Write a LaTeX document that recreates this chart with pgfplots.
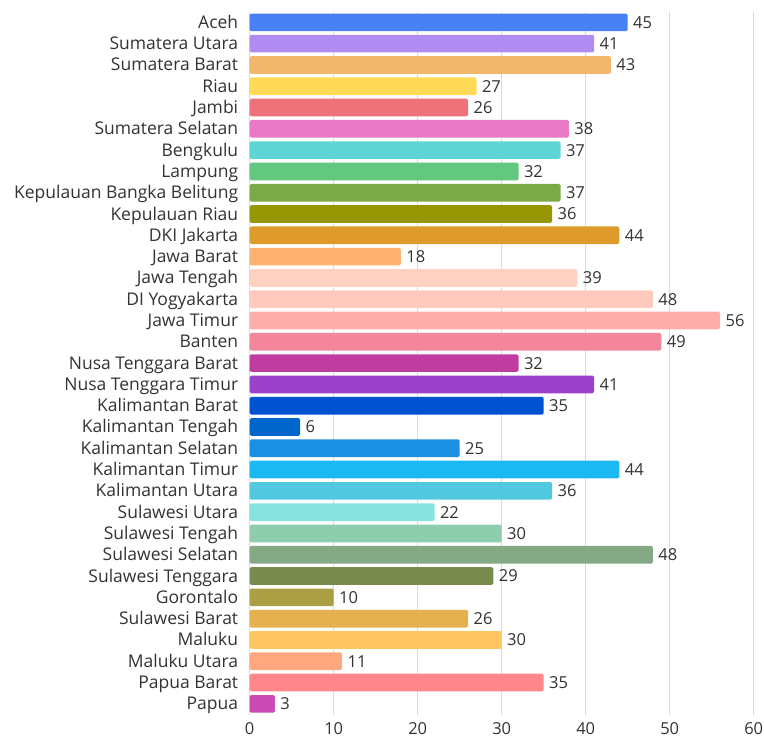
\documentclass[border=0pt]{standalone}
\usepackage{pgfplots}
\pgfplotsset{compat=1.18}
\usepackage{fontspec}
\setmainfont{Open Sans}
\definecolor{txt}{HTML}{333333}
\definecolor{gridc}{HTML}{DADADA}
\definecolor{c1}{HTML}{4A80F5}
\definecolor{c2}{HTML}{AF8BF2}
\definecolor{c3}{HTML}{F2B76B}
\definecolor{c4}{HTML}{FFDA56}
\definecolor{c5}{HTML}{EF727B}
\definecolor{c6}{HTML}{E879C6}
\definecolor{c7}{HTML}{5DD5D4}
\definecolor{c8}{HTML}{62C77F}
\definecolor{c9}{HTML}{7BA945}
\definecolor{c10}{HTML}{979604}
\definecolor{c11}{HTML}{DE9B2C}
\definecolor{c12}{HTML}{FFB271}
\definecolor{c13}{HTML}{FFD1C1}
\definecolor{c14}{HTML}{FFC9BD}
\definecolor{c15}{HTML}{FFADAA}
\definecolor{c16}{HTML}{F3869A}
\definecolor{c17}{HTML}{C03C9E}
\definecolor{c18}{HTML}{9A42C9}
\definecolor{c19}{HTML}{0052D1}
\definecolor{c20}{HTML}{0066CC}
\definecolor{c21}{HTML}{1A8FE3}
\definecolor{c22}{HTML}{1BB8F2}
\definecolor{c23}{HTML}{52C8DE}
\definecolor{c24}{HTML}{86E3DD}
\definecolor{c25}{HTML}{8ECEAE}
\definecolor{c26}{HTML}{84A985}
\definecolor{c27}{HTML}{7A8B50}
\definecolor{c28}{HTML}{AB9F45}
\definecolor{c29}{HTML}{E3B24E}
\definecolor{c30}{HTML}{FFC562}
\definecolor{c31}{HTML}{FFA77E}
\definecolor{c32}{HTML}{FF878C}
\definecolor{c33}{HTML}{CB4BB5}
\newcommand{\lblfont}{\fontsize{17.5}{20}\selectfont}
\newcommand{\valfont}{\fontsize{16.5}{20}\selectfont}
\begin{document}
\begin{tikzpicture}
\begin{axis}[
  scale only axis, width=504pt, height=702.8pt,
  xmin=0, xmax=60, ymin=-0.5, ymax=32.5, y dir=reverse,
  xtick={0,10,20,30,40,50,60},
  ytick={0,1,...,32},
  yticklabels={Aceh,Sumatera Utara,Sumatera Barat,Riau,Jambi,Sumatera Selatan,Bengkulu,Lampung,Kepulauan Bangka Belitung,Kepulauan Riau,DKI Jakarta,Jawa Barat,Jawa Tengah,DI Yogyakarta,Jawa Timur,Banten,Nusa Tenggara Barat,Nusa Tenggara Timur,Kalimantan Barat,Kalimantan Tengah,Kalimantan Selatan,Kalimantan Timur,Kalimantan Utara,Sulawesi Utara,Sulawesi Tengah,Sulawesi Selatan,Sulawesi Tenggara,Gorontalo,Sulawesi Barat,Maluku,Maluku Utara,Papua Barat,Papua},
  axis line style={draw=none},
  major tick length=0pt,
  xmajorgrids, grid style={color=gridc, line width=0.9pt},
  xbar, bar width=17.7pt, bar shift=0pt,
  /pgf/number format/assume math mode=true,
  nodes near coords,
  nodes near coords style={anchor=west, font=\valfont, text=txt, xshift=2pt, /pgf/number format/precision=0},
  ticklabel style={font=\lblfont, text=txt},
  yticklabel style={anchor=base east, xshift=-8pt, yshift=-6pt},
  xticklabel style={yshift=-4pt, font=\valfont},
  every axis plot/.append style={draw=none, rounded corners=1.5pt},
]
\addplot[fill=c1] coordinates {(45,0)};
\addplot[fill=c2] coordinates {(41,1)};
\addplot[fill=c3] coordinates {(43,2)};
\addplot[fill=c4] coordinates {(27,3)};
\addplot[fill=c5] coordinates {(26,4)};
\addplot[fill=c6] coordinates {(38,5)};
\addplot[fill=c7] coordinates {(37,6)};
\addplot[fill=c8] coordinates {(32,7)};
\addplot[fill=c9] coordinates {(37,8)};
\addplot[fill=c10] coordinates {(36,9)};
\addplot[fill=c11] coordinates {(44,10)};
\addplot[fill=c12] coordinates {(18,11)};
\addplot[fill=c13] coordinates {(39,12)};
\addplot[fill=c14] coordinates {(48,13)};
\addplot[fill=c15] coordinates {(56,14)};
\addplot[fill=c16] coordinates {(49,15)};
\addplot[fill=c17] coordinates {(32,16)};
\addplot[fill=c18] coordinates {(41,17)};
\addplot[fill=c19] coordinates {(35,18)};
\addplot[fill=c20] coordinates {(6,19)};
\addplot[fill=c21] coordinates {(25,20)};
\addplot[fill=c22] coordinates {(44,21)};
\addplot[fill=c23] coordinates {(36,22)};
\addplot[fill=c24] coordinates {(22,23)};
\addplot[fill=c25] coordinates {(30,24)};
\addplot[fill=c26] coordinates {(48,25)};
\addplot[fill=c27] coordinates {(29,26)};
\addplot[fill=c28] coordinates {(10,27)};
\addplot[fill=c29] coordinates {(26,28)};
\addplot[fill=c30] coordinates {(30,29)};
\addplot[fill=c31] coordinates {(11,30)};
\addplot[fill=c32] coordinates {(35,31)};
\addplot[fill=c33] coordinates {(3,32)};
\end{axis}
\pgfresetboundingbox
\path ([xshift=-249.7pt,yshift=-23.5pt]current axis.south west) rectangle ([xshift=10.3pt,yshift=11.7pt]current axis.north east);
\end{tikzpicture}
\end{document}
